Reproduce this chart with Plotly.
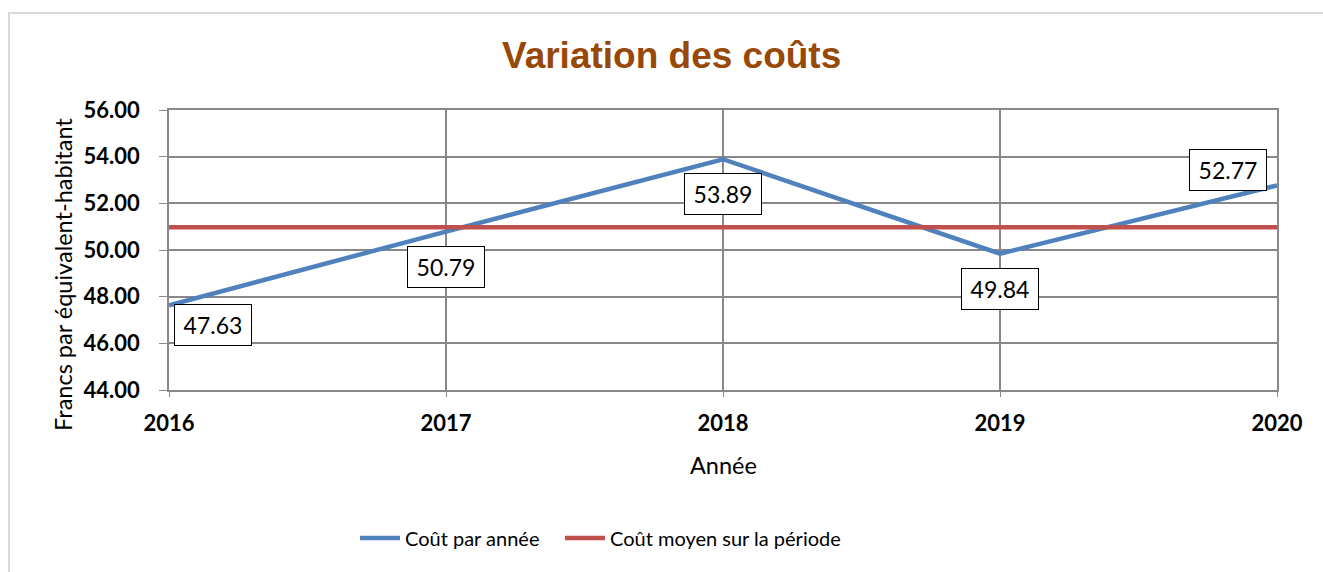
import plotly.graph_objects as go

# Données
annees = [2016, 2017, 2018, 2019, 2020]
cout_par_annee = [47.63, 50.79, 53.89, 49.84, 52.77]
cout_moyen = 50.98
cout_moyen_serie = [cout_moyen] * len(annees)
y_ticks = [44, 46, 48, 50, 52, 54, 56]

BLEU = "#4F81BD"
ROUGE = "#C0504D"
GRILLE = "#888888"
BODY_FONT = "Lato, Calibri, 'Open Sans', sans-serif"

# Plot area geometry (pixels)
W, H = 1323, 572
L, R, T, B = 169, 46, 110, 182
PW, PH = W - L - R, H - T - B


def px_x(px):
    return (px - L) / PW


def px_y(py):
    return (H - B - py) / PH


fig = go.Figure()
fig.add_trace(go.Scatter(
    x=annees, y=cout_par_annee, mode="lines", name="Coût par année",
    line=dict(color=BLEU, width=4.5), cliponaxis=False, legend="legend",
))
fig.add_trace(go.Scatter(
    x=annees, y=cout_moyen_serie, mode="lines", name="Coût moyen sur la période",
    line=dict(color=ROUGE, width=4.5), cliponaxis=False, legend="legend2",
))

# Boxed value labels (offsets in px relative to each point)
decalages = [(44, -20), (0, -35), (0, -35), (0, -35), (-49, 15)]
annotations = []
for a, v, (dx, dy) in zip(annees, cout_par_annee, decalages):
    annotations.append(dict(
        x=a, y=v, xref="x", yref="y", text=f"{v:.2f}", showarrow=False,
        xshift=dx, yshift=dy, width=72, height=36, borderpad=2,
        bordercolor="black", borderwidth=1, bgcolor="white",
        font=dict(family=BODY_FONT, size=23, color="black"),
    ))


def titre(text, cx, cy, size, color="black", family=BODY_FONT, angle=0):
    return dict(
        x=px_x(cx), y=px_y(cy), xref="paper", yref="paper", showarrow=False,
        xanchor="center", yanchor="middle", text=text, textangle=angle,
        font=dict(family=family, size=size, color=color),
    )


annotations.append(titre("<b>Variation des coûts</b>", 671, 55, 37,
                         color="#984807", family="Liberation Sans, Arial, sans-serif"))
annotations.append(titre("Francs par équivalent-habitant", 63, 275, 23.5, angle=-90))
annotations.append(titre("Année", 723, 465, 23.5))

legende = dict(
    orientation="h", yanchor="middle", xanchor="left", y=px_y(538),
    font=dict(family=BODY_FONT, size=20, color="black"),
    itemwidth=40, bgcolor="rgba(0,0,0,0)",
)

fig.update_layout(
    width=W, height=H,
    margin=dict(l=L, r=R, t=T, b=B, autoexpand=False),
    paper_bgcolor="white", plot_bgcolor="white",
    showlegend=True,
    legend=dict(legende, x=px_x(355)),
    legend2=dict(legende, x=px_x(560)),
    annotations=annotations,
    shapes=[dict(
        type="rect", xref="paper", yref="paper",
        x0=px_x(9), x1=px_x(1340), y0=px_y(13), y1=px_y(600),
        line=dict(color="#D9D9D9", width=2), layer="below",
    )],
)

fig.update_xaxes(
    range=[2016, 2020], tickvals=annees, ticktext=[str(a) for a in annees],
    showgrid=True, gridcolor=GRILLE, gridwidth=1.5,
    showline=True, mirror=True, linecolor=GRILLE, linewidth=1.5,
    ticks="outside", ticklen=5, tickcolor=GRILLE,
    tickfont=dict(family=BODY_FONT, size=22, color="black", weight="bold"),
    ticklabelstandoff=8, zeroline=False,
)
fig.update_yaxes(
    range=[44, 56], tickvals=y_ticks, tickformat=".2f",
    showgrid=True, gridcolor=GRILLE, gridwidth=1.5,
    showline=True, mirror=True, linecolor=GRILLE, linewidth=1.5,
    ticks="outside", ticklen=8, tickcolor=GRILLE,
    tickfont=dict(family=BODY_FONT, size=22, color="black", weight="bold"),
    ticklabelstandoff=15, zeroline=False,
)

fig.write_html("out.html")
